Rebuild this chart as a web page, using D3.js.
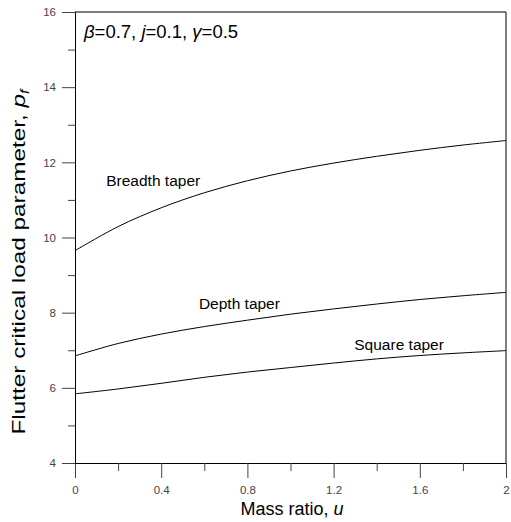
<!DOCTYPE html>
<html><head><meta charset="utf-8">
<script src="https://cdn.jsdelivr.net/npm/d3@7"></script>
<style>body{margin:0;background:#fff}svg{display:block}</style>
</head><body>
<svg id="c" width="511" height="522"></svg>
<script>
const massRatio = [0, 0.2, 0.4, 0.6, 0.8, 1.0, 1.2, 1.4, 1.6, 1.8, 2.0];
const breadthTaper = [9.65, 10.29, 10.79, 11.19, 11.51, 11.77, 11.98, 12.16, 12.32, 12.46, 12.58];
const depthTaper   = [6.85, 7.18, 7.43, 7.63, 7.80, 7.96, 8.10, 8.23, 8.35, 8.45, 8.54];
const squareTaper  = [5.84, 5.97, 6.12, 6.28, 6.42, 6.54, 6.66, 6.77, 6.86, 6.93, 6.99];
const xTicks = [0, 0.4, 0.8, 1.2, 1.6, 2];
const xMinor = [0.2, 0.6, 1.0, 1.4, 1.8];
const yTicks = [4, 6, 8, 10, 12, 14, 16];
const yMinor = [5, 7, 9, 11, 13, 15];
const seriesNames = ["Breadth taper", "Depth taper", "Square taper"];

const svg = d3.select("#c");
const L = 75, R = 506, T = 12, B = 463;
const x = d3.scaleLinear().domain([0, 2]).range([L, R]);
const y = d3.scaleLinear().domain([4, 16]).range([B, T]);
const font = "Arial, 'Liberation Sans', sans-serif";

// frame
svg.append("line").attr("x1", L).attr("x2", R).attr("y1", T).attr("y2", T).attr("stroke", "#000");
svg.append("line").attr("x1", R).attr("x2", R).attr("y1", T).attr("y2", B).attr("stroke", "#000");

// x axis
const xa = svg.append("g").attr("transform", `translate(0,${B})`)
  .call(d3.axisBottom(x).tickValues(xTicks).tickSize(15).tickPadding(8)
    .tickFormat(d => d === 0 || d === 2 ? d3.format("d")(d) : d3.format(".1f")(d)));
xa.select(".domain").attr("stroke", "#000");
xa.selectAll(".tick line").attr("stroke", "#444");
xa.selectAll("text").attr("font-family", font).attr("font-size", 11.5).attr("fill", "#444");
const xm = svg.append("g").attr("transform", `translate(0,${B})`)
  .call(d3.axisBottom(x).tickValues(xMinor).tickSize(8).tickFormat(""));
xm.select(".domain").remove();
xm.selectAll(".tick line").attr("stroke", "#444");

// y axis
const ya = svg.append("g").attr("transform", `translate(${L},0)`)
  .call(d3.axisLeft(y).tickValues(yTicks).tickSize(13).tickPadding(6).tickFormat(d3.format("d")));
ya.select(".domain").attr("stroke", "#000");
ya.selectAll(".tick line").attr("stroke", "#444");
ya.selectAll("text").attr("font-family", font).attr("font-size", 11.5).attr("fill", "#444");
const ym = svg.append("g").attr("transform", `translate(${L},0)`)
  .call(d3.axisLeft(y).tickValues(yMinor).tickSize(7).tickFormat(""));
ym.select(".domain").remove();
ym.selectAll(".tick line").attr("stroke", "#444");

// curves
const line = d3.line().x((d, i) => x(massRatio[i])).y(d => y(d)).curve(d3.curveCatmullRom);
[breadthTaper, depthTaper, squareTaper].forEach(s => {
  svg.append("path").attr("d", line(s)).attr("fill", "none").attr("stroke", "#000").attr("stroke-width", 1);
});

// series labels
const labelPos = [[0.145, 11.37], [0.575, 8.11], [1.296, 7.01]];
seriesNames.forEach((n, i) => {
  svg.append("text").attr("x", x(labelPos[i][0])).attr("y", y(labelPos[i][1]))
    .attr("font-family", font).attr("font-size", 15.5).attr("fill", "#000").text(n);
});

// parameter annotation
const ann = svg.append("text").attr("x", 84).attr("y", 38).attr("font-family", font).attr("font-size", 18.5).attr("fill", "#000");
ann.append("tspan").attr("font-style", "italic").text("β");
ann.append("tspan").text("=0.7, ");
ann.append("tspan").attr("font-style", "italic").text("j");
ann.append("tspan").text("=0.1, ");
ann.append("tspan").attr("font-style", "italic").text("γ");
ann.append("tspan").text("=0.5");

// axis titles
const xt = svg.append("text").attr("x", 292).attr("y", 515).attr("text-anchor", "middle")
  .attr("font-family", font).attr("font-size", 18).attr("fill", "#000");
xt.append("tspan").text("Mass ratio, ");
xt.append("tspan").attr("font-style", "italic").text("u");

const yt = svg.append("text").attr("transform", "translate(25,262) rotate(-90)").attr("text-anchor", "middle")
  .attr("font-family", font).attr("font-size", 18.5).attr("fill", "#000")
  .attr("textLength", 345).attr("lengthAdjust", "spacingAndGlyphs");
yt.append("tspan").text("Flutter critical load parameter, ");
yt.append("tspan").attr("font-style", "italic").text("p");
yt.append("tspan").attr("font-style", "italic").attr("font-size", 12).attr("dy", 4).text("f");
</script>
</body></html>
